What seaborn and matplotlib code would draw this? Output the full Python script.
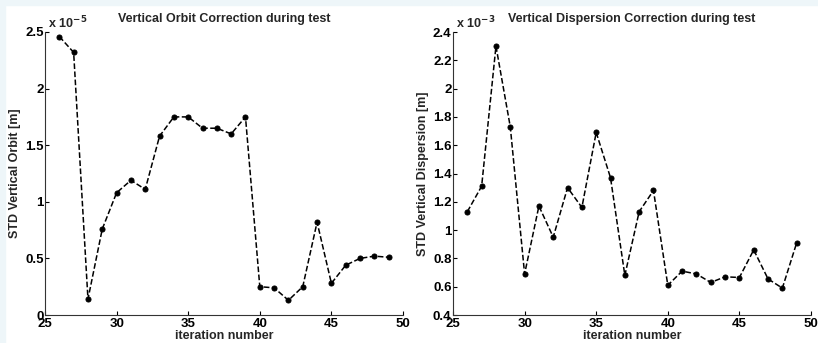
import matplotlib
matplotlib.use('Agg')
import matplotlib.pyplot as plt
from matplotlib.patches import Rectangle
import seaborn as sns
import pandas as pd

# data
iterations = list(range(26, 50))
orbit_std = [2.46, 2.32, 0.14, 0.76, 1.08, 1.19, 1.11, 1.58, 1.75, 1.75, 1.65, 1.65,
             1.60, 1.75, 0.25, 0.24, 0.13, 0.25, 0.82, 0.28, 0.44, 0.50, 0.52, 0.51]  # x 1e-5
disp_std = [1.13, 1.31, 2.30, 1.73, 0.69, 1.17, 0.95, 1.30, 1.16, 1.69, 1.37, 0.68,
            1.13, 1.28, 0.61, 0.71, 0.69, 0.63, 0.67, 0.665, 0.86, 0.655, 0.59, 0.91]  # x 1e-3

x_ticks = [25, 30, 35, 40, 45, 50]
orbit_yticks = [0, 0.5, 1, 1.5, 2, 2.5]
disp_yticks = [0.4, 0.6, 0.8, 1, 1.2, 1.4, 1.6, 1.8, 2, 2.2, 2.4]

titles = ['Vertical Orbit Correction during test', 'Vertical Dispersion Correction during test']
ylabels = ['STD Vertical Orbit [m]', 'STD Vertical Dispersion [m]']
exponents = ['-5', '-3']

sns.set_style('ticks')
plt.rcParams['font.family'] = ['Liberation Sans', 'DejaVu Sans']
plt.rcParams['font.weight'] = 'bold'
plt.rcParams['font.size'] = 9
plt.rcParams['xtick.direction'] = 'in'
plt.rcParams['ytick.direction'] = 'in'

fig = plt.figure(figsize=(8.18, 3.43), dpi=100)
fig.patch.set_facecolor('white')
# light frame on top/left like the screenshot
fig.patches.append(Rectangle((0, 1 - 5 / 343), 1, 5 / 343, transform=fig.transFigure,
                             color='#eef6f9', zorder=0))
fig.patches.append(Rectangle((0, 0), 5 / 818, 1, transform=fig.transFigure,
                             color='#eef6f9', zorder=0))

ax1 = fig.add_axes([45 / 818, 1 - 315 / 343, 358 / 818, 283 / 343])
ax2 = fig.add_axes([453 / 818, 1 - 315 / 343, 358 / 818, 283 / 343])

df = pd.DataFrame({'iter': iterations, 'orbit': orbit_std, 'disp': disp_std})

panels = [(ax1, 'orbit', orbit_yticks), (ax2, 'disp', disp_yticks)]
for i, (ax, col, yt) in enumerate(panels):
    sns.lineplot(data=df, x='iter', y=col, ax=ax, color='black', linestyle='--',
                 linewidth=1.1, marker='o', markersize=3.6, markeredgecolor='black')
    ax.set_xlim(25, 50)
    ax.set_ylim(yt[0], yt[-1])
    ax.set_xticks(x_ticks, labels=[f'{v:g}' for v in x_ticks], fontweight='bold', fontsize=9.5)
    ax.set_yticks(yt, labels=[f'{v:g}' for v in yt], fontweight='bold', fontsize=9.5)
    ax.tick_params(length=3, width=0.8, pad=1, colors='black')
    ax.tick_params(axis='x', pad=2.5)
    ax.set_xlabel('iteration number', fontweight='bold', fontsize=9, labelpad=0)
    ax.set_ylabel(ylabels[i], fontweight='bold', fontsize=9, labelpad=3)
    ax.set_title(titles[i], fontweight='bold', fontsize=9, pad=7)
    ax.text(0.0, 1.003, ' x 10$^{' + exponents[i] + '}$', transform=ax.transAxes,
            ha='left', va='bottom', fontsize=9, fontweight='bold')
    sns.despine(ax=ax)
    for s in ['left', 'bottom']:
        ax.spines[s].set_color('#333333')
        ax.spines[s].set_linewidth(0.8)

plt.savefig('out.png', dpi=100, facecolor='white')
plt.close()
